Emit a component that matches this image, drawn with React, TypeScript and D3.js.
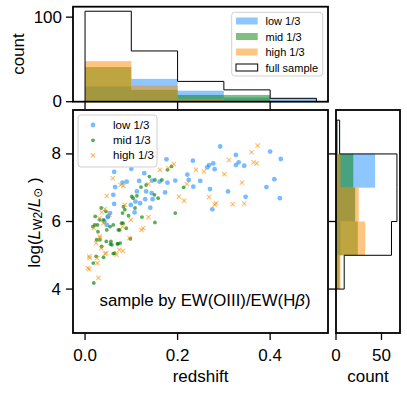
import React from "react";
import * as d3 from "d3";

// ---------- data ----------
const lowPts: [number, number][] = [
  [0.176, 7.84], [0.233, 7.80], [0.100, 7.56], [0.063, 7.47], [0.128, 7.43], [0.221, 7.39],
  [0.117, 7.20], [0.145, 7.21], [0.090, 7.18], [0.081, 7.15], [0.065, 7.02], [0.161, 7.18],
  [0.178, 7.15], [0.195, 7.21], [0.224, 7.23], [0.249, 7.20], [0.234, 7.03], [0.112, 6.89],
  [0.132, 6.89], [0.144, 6.84], [0.173, 6.86], [0.061, 6.79], [0.130, 6.66], [0.146, 6.66],
  [0.109, 6.59], [0.063, 6.52], [0.119, 6.54], [0.099, 6.49], [0.141, 6.41], [0.107, 6.27],
  [0.054, 6.25], [0.049, 6.13], [0.047, 5.90], [0.292, 8.22], [0.326, 7.97], [0.400, 8.07],
  [0.423, 7.85], [0.277, 7.72], [0.268, 7.67], [0.264, 7.60], [0.280, 7.55], [0.326, 7.67],
  [0.332, 7.75], [0.344, 7.65], [0.270, 6.96], [0.309, 6.89], [0.409, 7.25], [0.392, 7.02],
  [0.347, 6.73], [0.421, 6.69], [0.275, 6.36], [0.042, 6.00], [0.050, 6.15]
];
const midPts: [number, number][] = [
  [0.019, 4.18], [0.021, 5.90], [0.028, 5.70], [0.032, 5.46], [0.046, 5.41], [0.055, 5.33],
  [0.071, 5.34], [0.064, 5.06], [0.040, 4.94], [0.024, 4.97], [0.098, 5.49], [0.082, 5.95],
  [0.089, 5.80], [0.061, 5.90], [0.075, 5.75], [0.178, 7.53], [0.187, 7.63], [0.139, 7.33],
  [0.151, 7.23], [0.166, 7.23], [0.213, 7.01], [0.121, 7.02], [0.132, 7.08], [0.112, 6.76],
  [0.104, 6.69], [0.150, 6.79], [0.158, 6.69], [0.195, 6.25], [0.151, 5.97], [0.123, 6.13],
  [0.094, 6.17], [0.081, 6.25], [0.083, 6.44], [0.108, 6.40], [0.022, 6.15], [0.027, 5.90],
  [0.017, 5.85], [0.047, 5.75], [0.054, 5.85], [0.072, 5.75], [0.079, 5.95], [0.058, 5.31],
  [0.070, 5.34], [0.025, 5.46], [0.036, 5.26], [0.018, 4.77], [0.061, 5.05], [0.076, 5.36],
  [0.056, 5.41], [0.101, 6.74], [0.086, 6.35], [0.032, 6.05], [0.040, 6.05], [0.045, 6.30],
  [0.035, 6.40]
];
const highPts: [number, number][] = [
  [0.373, 8.25], [0.360, 8.05], [0.311, 7.82], [0.364, 7.75], [0.371, 7.72], [0.257, 7.48],
  [0.301, 7.40], [0.339, 7.15], [0.268, 6.72], [0.283, 6.54], [0.280, 6.50], [0.319, 6.51],
  [0.344, 6.53], [0.192, 7.70], [0.180, 7.58], [0.240, 7.53], [0.162, 7.53], [0.060, 7.28],
  [0.083, 7.05], [0.077, 7.08], [0.137, 7.11], [0.220, 7.11], [0.203, 6.74], [0.214, 6.62],
  [0.047, 6.76], [0.086, 6.49], [0.043, 6.37], [0.036, 6.27], [0.031, 6.10], [0.040, 5.95],
  [0.053, 6.20], [0.099, 6.05], [0.137, 6.13], [0.126, 5.80], [0.081, 5.85], [0.019, 5.80],
  [0.024, 5.36], [0.032, 5.51], [0.096, 5.51], [0.074, 5.16], [0.068, 5.02], [0.043, 5.05],
  [0.009, 4.97], [0.027, 4.77], [0.009, 4.59], [0.029, 4.33], [0.010, 4.92], [0.026, 4.92],
  [0.006, 4.62], [0.035, 5.21], [0.046, 5.06], [0.082, 5.13], [0.122, 5.75], [0.032, 5.56]
];

const zEdges = [0, 0.1, 0.2, 0.3, 0.4, 0.5];
const zFull = [107, 60, 24, 14, 4];
const zLow = [18, 27, 13, 5, 4];
const zMid = [41, 14, 8, 8, 0];
const zHigh = [48, 19, 3, 1, 0];

const lEdges = [4, 5, 6, 7, 8, 9];
const lFull = [9, 61, 67, 67, 4];
const lLow = [0, 5, 21, 43, 2];
const lMid = [4, 24, 21, 19, 2];
const lHigh = [5, 32, 25, 5, 0];

const groupNames = ["low 1/3", "mid 1/3", "high 1/3"];
const xTicks = [0, 0.2, 0.4];
const yTicks = [4, 6, 8];
const topTicks = [0, 100];
const rightTicks = [0, 50];

const COLORS = ["dodgerblue", "green", "darkorange"];
const FONT = "'Liberation Sans', Arial, sans-serif";

// ---------- scales ----------
const xS = d3.scaleLinear().domain([-0.026, 0.525]).range([73, 328]);
const yS = d3.scaleLinear().domain([2.7, 9.3]).range([333, 110]);
const topY = d3.scaleLinear().domain([0, 112.35]).range([101.7, 6.7]);
const rightX = d3.scaleLinear().domain([0, 70.35]).range([336, 400]);

const topLine = d3
  .line<[number, number]>()
  .x((d) => xS(d[0]))
  .y((d) => topY(d[1]))
  .curve(d3.curveStepBefore);
const rightLine = d3
  .line<[number, number]>()
  .x((d) => rightX(d[0]))
  .y((d) => yS(d[1]))
  .curve(d3.curveStepAfter);

function topOutline(): [number, number][] {
  const pts: [number, number][] = [[zEdges[0], 0]];
  zFull.forEach((c, i) => pts.push([zEdges[i + 1], c]));
  pts.push([zEdges[zEdges.length - 1], 0]);
  return pts;
}
function rightOutline(): [number, number][] {
  const pts: [number, number][] = [[0, lEdges[0]]];
  lFull.forEach((c, i) => pts.push([c, lEdges[i + 1]]));
  pts.push([0, lEdges[lEdges.length - 1]]);
  return pts;
}

const Cross = ({ cx, cy, s, color }: { cx: number; cy: number; s: number; color: string }) => (
  <g stroke={color} strokeOpacity={0.55} strokeWidth={1.1}>
    <line x1={cx - s} y1={cy - s} x2={cx + s} y2={cy + s} />
    <line x1={cx - s} y1={cy + s} x2={cx + s} y2={cy - s} />
  </g>
);

export default function App() {
  const topGroups = [zLow, zMid, zHigh];
  const rightGroups = [lLow, lMid, lHigh];
  return (
    <svg
      width={407}
      height={393}
      style={{ position: "absolute", left: 0, top: 0, background: "white" }}
      fontFamily={FONT}
    >
      {/* ---- top histogram ---- */}
      {topGroups.map((arr, g) =>
        arr.map((c, i) =>
          c > 0 ? (
            <rect
              key={`t${g}-${i}`}
              x={xS(zEdges[i])}
              width={xS(zEdges[i + 1]) - xS(zEdges[i])}
              y={topY(c)}
              height={topY(0) - topY(c)}
              fill={COLORS[g]}
              fillOpacity={0.5}
            />
          ) : null
        )
      )}
      <path d={topLine(topOutline()) || ""} fill="none" stroke="black" strokeWidth={1} />
      <rect x={73} y={6.7} width={255} height={95} fill="none" stroke="black" strokeWidth={1.8} />
      {topTicks.map((t) => (
        <g key={`tt${t}`}>
          <line x1={73} x2={66} y1={topY(t)} y2={topY(t)} stroke="black" strokeWidth={1.3} />
          <text x={62} y={topY(t)} textAnchor="end" dominantBaseline="central" fontSize={17}>
            {t}
          </text>
        </g>
      ))}
      {xTicks.map((t) => (
        <line key={`tx${t}`} x1={xS(t)} x2={xS(t)} y1={101.7} y2={109} stroke="black" strokeWidth={1.3} />
      ))}
      <text transform="translate(18,54) rotate(-90)" textAnchor="middle" dominantBaseline="central" fontSize={17}>
        count
      </text>
      {/* top legend */}
      <rect x={231.7} y={12.3} width={91} height={63.7} rx={3} fill="white" fillOpacity={0.8} stroke="#d0d0d0" strokeWidth={1} />
      {groupNames.map((n, i) => (
        <g key={`tl${i}`}>
          <rect x={236} y={21 + i * 15.5 - 3.5} width={21.7} height={7} fill={COLORS[i]} fillOpacity={0.5} />
          <text x={265.5} y={21 + i * 15.5} dominantBaseline="central" fontSize={11}>
            {n}
          </text>
        </g>
      ))}
      <rect x={236} y={21 + 3 * 15.5 - 3.5} width={21.7} height={7} fill="white" stroke="black" strokeWidth={1} />
      <text x={265.5} y={21 + 3 * 15.5} dominantBaseline="central" fontSize={11}>
        full sample
      </text>

      {/* ---- right histogram ---- */}
      {rightGroups.map((arr, g) =>
        arr.map((c, i) =>
          c > 0 ? (
            <rect
              key={`r${g}-${i}`}
              x={rightX(0)}
              width={rightX(c) - rightX(0)}
              y={yS(lEdges[i + 1])}
              height={yS(lEdges[i]) - yS(lEdges[i + 1])}
              fill={COLORS[g]}
              fillOpacity={0.5}
            />
          ) : null
        )
      )}
      <path d={rightLine(rightOutline()) || ""} fill="none" stroke="black" strokeWidth={1} />
      <rect x={336} y={110} width={64} height={223} fill="none" stroke="black" strokeWidth={1.8} />
      {yTicks.map((t) => (
        <line key={`ry${t}`} x1={336} x2={329} y1={yS(t)} y2={yS(t)} stroke="black" strokeWidth={1.3} />
      ))}
      {rightTicks.map((t) => (
        <g key={`rx${t}`}>
          <line x1={rightX(t)} x2={rightX(t)} y1={333} y2={340} stroke="black" strokeWidth={1.3} />
          <text x={rightX(t)} y={355} textAnchor="middle" dominantBaseline="central" fontSize={17}>
            {t}
          </text>
        </g>
      ))}
      <text x={368} y={376} textAnchor="middle" dominantBaseline="central" fontSize={17}>
        count
      </text>

      {/* ---- scatter ---- */}
      {lowPts.map((p, i) => (
        <circle key={`lo${i}`} cx={xS(p[0])} cy={yS(p[1])} r={2.4} fill={COLORS[0]} fillOpacity={0.6} />
      ))}
      {midPts.map((p, i) => (
        <circle key={`mi${i}`} cx={xS(p[0])} cy={yS(p[1])} r={1.9} fill={COLORS[1]} fillOpacity={0.65} />
      ))}
      {highPts.map((p, i) => (
        <Cross key={`hi${i}`} cx={xS(p[0])} cy={yS(p[1])} s={2.2} color={COLORS[2]} />
      ))}
      <rect x={73} y={110} width={255} height={223} fill="none" stroke="black" strokeWidth={1.8} />
      {xTicks.map((t) => (
        <g key={`sx${t}`}>
          <line x1={xS(t)} x2={xS(t)} y1={333} y2={340} stroke="black" strokeWidth={1.3} />
          <text x={xS(t)} y={355} textAnchor="middle" dominantBaseline="central" fontSize={17}>
            {d3.format(".1f")(t)}
          </text>
        </g>
      ))}
      {yTicks.map((t) => (
        <g key={`sy${t}`}>
          <line x1={73} x2={66} y1={yS(t)} y2={yS(t)} stroke="black" strokeWidth={1.3} />
          <text x={61} y={yS(t)} textAnchor="end" dominantBaseline="central" fontSize={17}>
            {t}
          </text>
        </g>
      ))}
      <text x={200.5} y={376} textAnchor="middle" dominantBaseline="central" fontSize={17}>
        redshift
      </text>
      <text transform="translate(34,222.5) rotate(-90)" textAnchor="middle" dominantBaseline="central" fontSize={17}>
        <tspan>log(</tspan>
        <tspan fontStyle="italic">L</tspan>
        <tspan fontSize={12} dy={4}>W2</tspan>
        <tspan dy={-4}>/</tspan>
        <tspan fontStyle="italic">L</tspan>
        <tspan fontSize={12} dy={4} fontFamily="'DejaVu Sans'">⊙</tspan>
        <tspan dy={-4}> )</tspan>
      </text>
      <text x={99.5} y={305.5} fontSize={16.8}>
        sample by EW(OIII)/EW(H<tspan fontStyle="italic">β</tspan>)
      </text>
      {/* scatter legend */}
      <rect x={78} y={115} width={79} height={52} rx={3} fill="white" fillOpacity={0.8} stroke="#d0d0d0" strokeWidth={1} />
      <circle cx={93} cy={125} r={2.4} fill={COLORS[0]} fillOpacity={0.6} />
      <circle cx={93} cy={140.3} r={1.9} fill={COLORS[1]} fillOpacity={0.65} />
      <Cross cx={93} cy={155.3} s={2.2} color={COLORS[2]} />
      {groupNames.map((n, i) => (
        <text key={`sl${i}`} x={113} y={125 + i * 15.2} dominantBaseline="central" fontSize={11.5}>
          {n}
        </text>
      ))}
    </svg>
  );
}
